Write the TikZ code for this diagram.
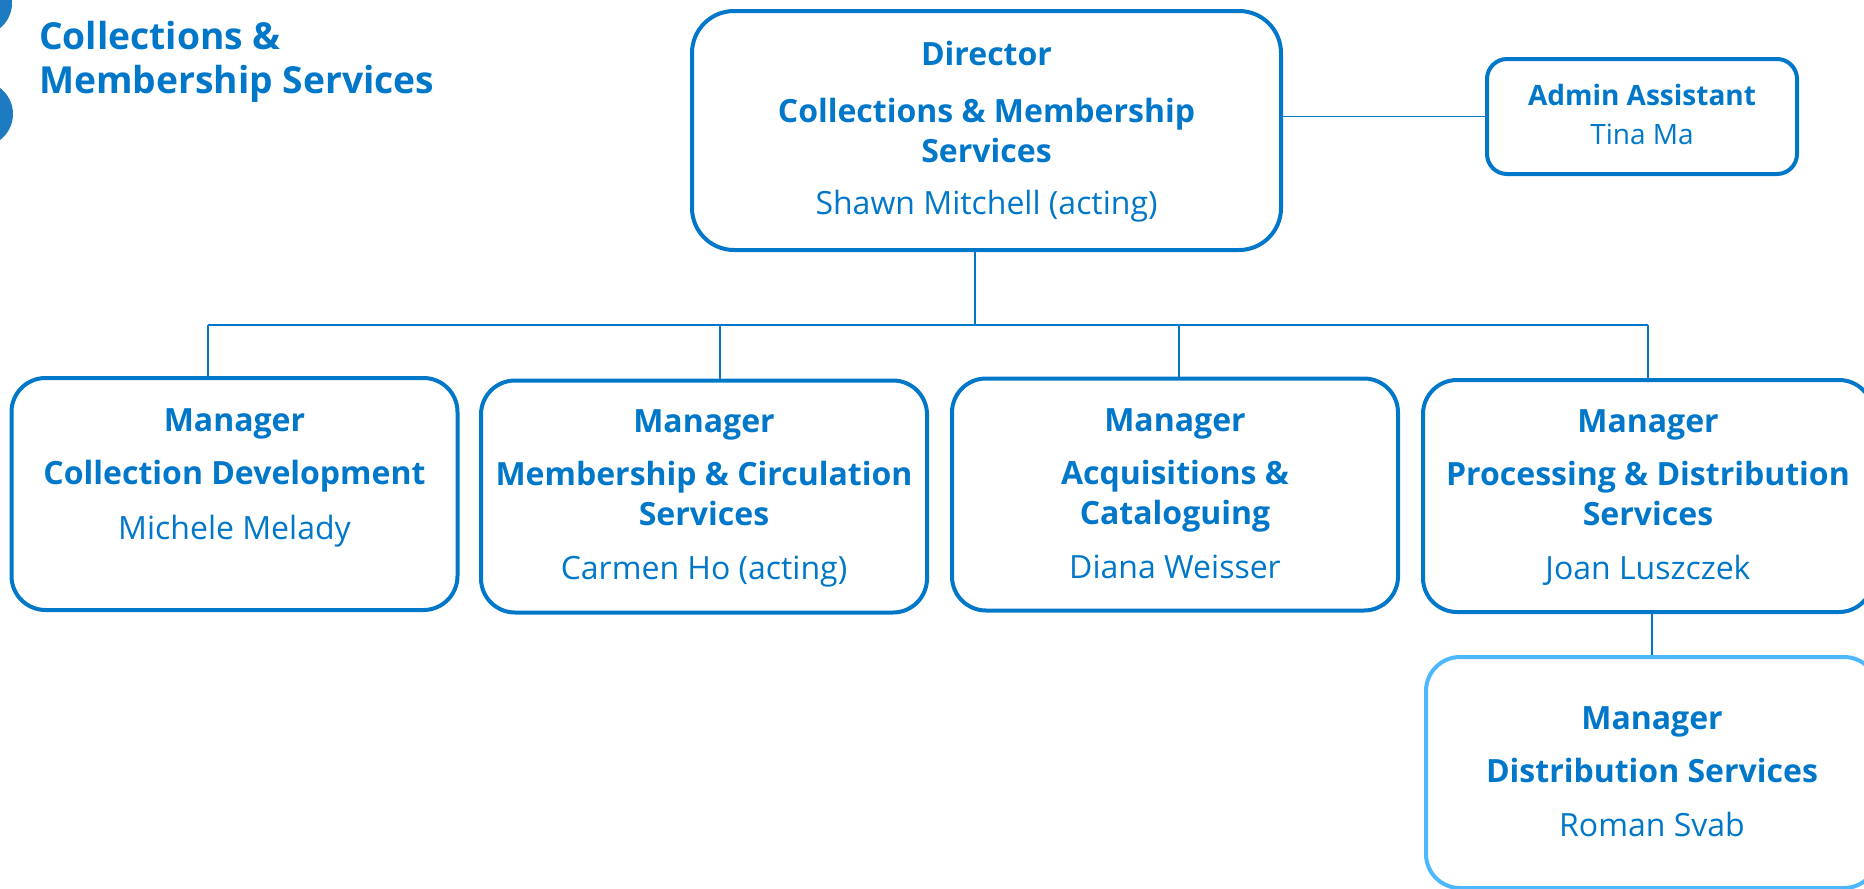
\documentclass[tikz,border=0pt]{standalone}
\usepackage{fontspec}
\setmainfont{Open Sans}
\usetikzlibrary{positioning}

\definecolor{orgblue}{HTML}{0077C8}
\definecolor{paleblue}{HTML}{4DB8FF}
\definecolor{dotblue}{HTML}{1F7BC1}

\tikzset{
	unit/.style={draw=orgblue, line width=4pt, rounded corners=34pt, minimum width=446pt, minimum height=232pt, inner sep=0pt},
	txt/.style={text=orgblue, align=center, inner sep=0pt, font=\fontsize{32}{40}\selectfont},
	link/.style={draw=orgblue, line width=1.6pt},
}

\begin{document}
\begin{tikzpicture}[x=1pt, y=-1pt]
	\useasboundingbox (0,0) rectangle (1864,889);

	% side dots and title
	\fill[dotblue] (-20.5,3) circle (32.5);
	\fill[dotblue] (-19.5,114) circle (32.5);
	\node[txt, anchor=north west, align=left, font=\fontsize{37.2}{44}\selectfont\bfseries] (title) at (39,21) {Collections \&\\Membership Services};

	% boxes
	\node[unit, minimum width=589pt, minimum height=239pt, rounded corners=42pt] (dir) at (986.5,130.5) {};
	\node[unit, minimum width=310pt, minimum height=115pt, rounded corners=20pt] (admin) at (1642,116.5) {};
	\node[unit] (m1) at (234.5,494) {};
	\node[unit] (m2) at (704,496.5) {};
	\node[unit] (m3) at (1175,494.5) {};
	\node[unit, minimum width=450pt] (m4) at (1648,496) {};
	\node[unit, draw=paleblue, minimum width=452pt, minimum height=231pt] (m5) at (1652,772.5) {};

	% texts
	\node[txt, below=31.5pt of dir.north] (dirtxt) {\textbf{Director}\\[17pt]\textbf{Collections \& Membership}\\\textbf{Services}\\[12pt]Shawn Mitchell (acting)};
	\node[txt, below=27.5pt of admin.north, font=\fontsize{28}{38.6}\selectfont] (admintxt) {\textbf{Admin Assistant}\\Tina Ma};
	\node[txt, below=32pt of m1.north] (m1txt) {\textbf{Manager}\\[13pt]\textbf{Collection Development}\\[15pt]Michele Melady};
	\node[txt, below=31pt of m2.north] (m2txt) {\textbf{Manager}\\[13pt]\textbf{Membership \& Circulation}\\\textbf{Services}\\[14pt]Carmen Ho (acting)};
	\node[txt, below=32pt of m3.north] (m3txt) {\textbf{Manager}\\[13pt]\textbf{Acquisitions \&}\\\textbf{Cataloguing}\\[14pt]Diana Weisser};
	\node[txt, below=31pt of m4.north] (m4txt) {\textbf{Manager}\\[13pt]\textbf{Processing \& Distribution}\\\textbf{Services}\\[14pt]Joan Luszczek};
	\node[txt, below=51pt of m5.north] (m5txt) {\textbf{Manager}\\[13pt]\textbf{Distribution Services}\\[14pt]Roman Svab};

	% connectors
	\coordinate (b0) at (975,325);
	\coordinate (b1) at (208,325);
	\coordinate (b2) at (720,325);
	\coordinate (b3) at (1179,325);
	\coordinate (b4) at (1648,325);
	\coordinate (b5) at (1652,634);
	\draw[link] (admin.west -| dir.east) -- (admin.west);
	\draw[link] (dir.south -| b0) -- (b0);
	\draw[link] (b1) -- (b4);
	\foreach \i in {1,...,4} {
		\draw[link] (b\i) -- (b\i |- m\i.north);
	};
	\draw[link] (b5 |- m4.south) -- (b5 |- m5.north);
\end{tikzpicture}
\end{document}
